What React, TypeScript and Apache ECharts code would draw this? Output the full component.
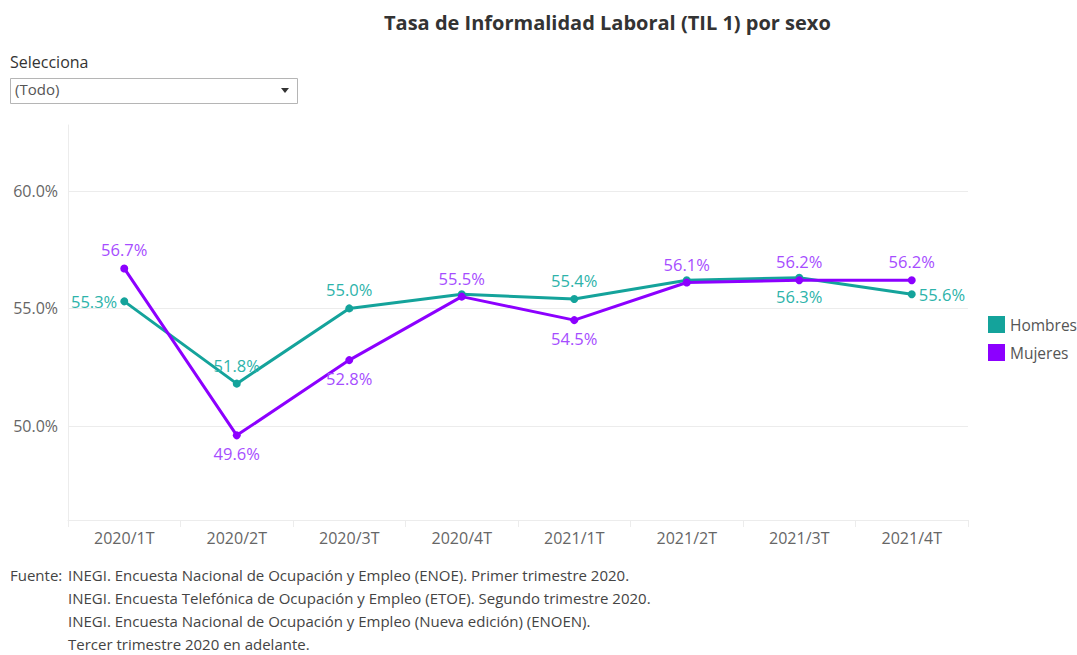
import React, { useEffect, useRef } from "react";
import * as echarts from "echarts";

const categories = ["2020/1T", "2020/2T", "2020/3T", "2020/4T", "2021/1T", "2021/2T", "2021/3T", "2021/4T"];
const hombres = [55.3, 51.8, 55.0, 55.6, 55.4, 56.2, 56.3, 55.6];
const mujeres = [56.7, 49.6, 52.8, 55.5, 54.5, 56.1, 56.2, 56.2];
const hombresLabelPos = ["left", "top", "top", "none", "top", "none", "bottom", "right"];
const mujeresLabelPos = ["top", "bottom", "bottom", "top", "bottom", "top", "top", "top"];
const yTicks = [50, 55, 60];
const footerLines = [
  "INEGI. Encuesta Nacional de Ocupación y Empleo (ENOE). Primer trimestre 2020.",
  "INEGI. Encuesta Telefónica de Ocupación y Empleo (ETOE). Segundo trimestre 2020.",
  "INEGI. Encuesta Nacional de Ocupación y Empleo (Nueva edición) (ENOEN).",
  "Tercer trimestre 2020 en adelante.",
];

const FONT = "'Open Sans', 'Noto Sans', sans-serif";
const TEAL = "#14a39b";
const TEAL_LBL = "#2db3aa";
const PURPLE = "#8c00ff";
const PURPLE_LBL = "#a64dff";

export default function App() {
  const ref = useRef<HTMLDivElement>(null);
  useEffect(() => {
    if (!ref.current) return;
    const chart = echarts.init(ref.current, null, { renderer: "svg" });
    const mkData = (vals: number[], pos: string[], color: string) =>
      vals.map((v, i) => ({
        value: v,
        label:
          pos[i] === "none"
            ? { show: false }
            : { show: true, position: pos[i], color, fontSize: 16.5, fontFamily: FONT, distance: pos[i] === "left" || pos[i] === "right" ? 3 : 6 },
      }));
    chart.setOption({
      animation: false,
      textStyle: { fontFamily: FONT },
      title: {
        text: "Tasa de Informalidad Laboral (TIL 1) por sexo",
        left: 379,
        top: 7,
        textStyle: { fontSize: 20, fontWeight: "bold", color: "#333", fontFamily: FONT },
      },
      legend: {
        orient: "vertical",
        left: 983,
        top: 311,
        itemWidth: 17,
        itemHeight: 17,
        itemGap: 11,
        icon: "rect",
        textStyle: { fontSize: 15.5, color: "#555", fontFamily: FONT },
        data: [
          { name: "Hombres", itemStyle: { color: TEAL } },
          { name: "Mujeres", itemStyle: { color: PURPLE } },
        ],
      },
      grid: { left: 68, right: 109, top: 125, bottom: 135 },
      xAxis: {
        type: "category",
        data: categories,
        boundaryGap: true,
        axisLine: { show: true, lineStyle: { color: "#ececec", width: 1 } },
        axisTick: { show: true, length: 7, lineStyle: { color: "#ececec" } },
        axisLabel: { fontSize: 16, color: "#666", margin: 10, fontFamily: FONT },
      },
      yAxis: {
        type: "value",
        min: 46,
        max: 62.8,
        axisLine: { show: true, lineStyle: { color: "#ececec" } },
        axisTick: { show: false },
        axisLabel: { show: false },
        splitLine: { show: false },
      },
      series: [
        {
          name: "Hombres",
          type: "line",
          data: mkData(hombres, hombresLabelPos, TEAL_LBL),
          color: TEAL,
          lineStyle: { width: 3, color: TEAL },
          itemStyle: { color: TEAL },
          symbol: "circle",
          symbolSize: 8,
          z: 3,
          label: { formatter: (p: any) => p.value.toFixed(1) + "%" },
          markLine: {
            silent: true,
            symbol: "none",
            z: 1,
            lineStyle: { color: "#ececec", width: 1, type: "solid" },
            label: {
              show: true,
              position: "start",
              distance: 10,
              fontSize: 16,
              color: "#666",
              fontFamily: FONT,
              formatter: (p: any) => Number(p.value).toFixed(1) + "%",
            },
            data: yTicks.map((t) => ({ yAxis: t })),
          },
        },
        {
          name: "Mujeres",
          type: "line",
          data: mkData(mujeres, mujeresLabelPos, PURPLE_LBL),
          color: PURPLE,
          lineStyle: { width: 3, color: PURPLE },
          itemStyle: { color: PURPLE },
          symbol: "circle",
          symbolSize: 8,
          z: 4,
          label: { formatter: (p: any) => p.value.toFixed(1) + "%" },
        },
      ],
      graphic: [
        {
          type: "text",
          left: 10,
          top: 54,
          style: { text: "Selecciona", fontSize: 16, fill: "#333", fontFamily: FONT },
        },
        {
          type: "rect",
          shape: { x: 10.5, y: 78.5, width: 287, height: 25 },
          style: { fill: "#fff", stroke: "#b5b5b5", lineWidth: 1 },
        },
        {
          type: "text",
          left: 15,
          top: 81,
          style: { text: "(Todo)", fontSize: 15, fill: "#555", fontFamily: FONT },
        },
        {
          type: "polygon",
          shape: { points: [[281, 88], [289, 88], [285, 93]] },
          style: { fill: "#333" },
        },
        {
          type: "text",
          left: 10,
          top: 567,
          style: { text: "Fuente:", fontSize: 15, fill: "#444", fontFamily: FONT },
        },
        ...footerLines.map((t, i) => ({
          type: "text",
          left: 68,
          top: 567 + i * 23,
          style: { text: t, fontSize: 15, fill: "#444", fontFamily: FONT },
        })),
      ],
    });
    return () => chart.dispose();
  }, []);
  return (
    <div
      ref={ref}
      style={{ position: "absolute", left: 0, top: 0, width: 1077, height: 655, background: "#fff" }}
    />
  );
}
